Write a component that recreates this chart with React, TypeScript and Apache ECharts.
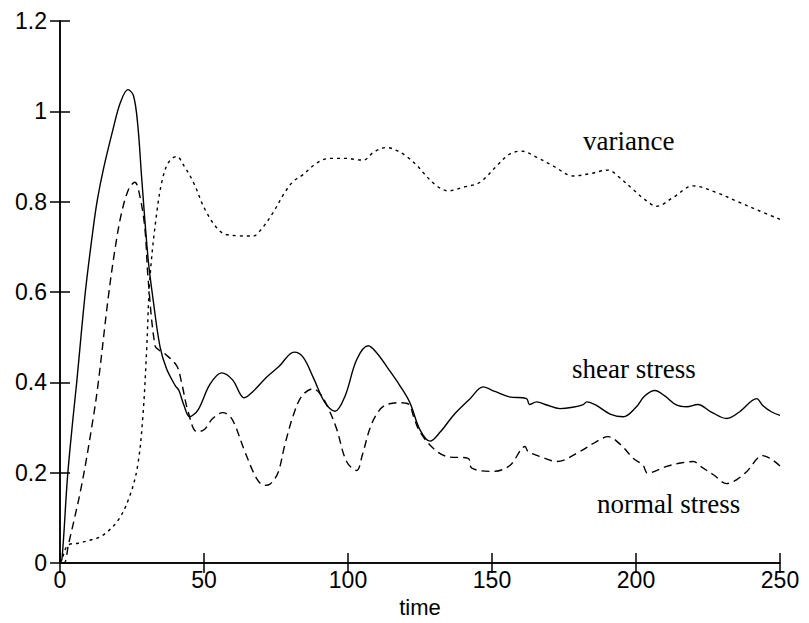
import React, { useEffect, useRef } from "react";
import * as echarts from "echarts";

const xTicks = [0, 50, 100, 150, 200, 250];
const yTicks = [0, 0.2, 0.4, 0.6, 0.8, 1, 1.2];

const shearStress: [number, number][] = [
  [0, 0], [0.7, 0.01], [2.6, 0.19], [4.5, 0.32], [5.8, 0.4], [8.8, 0.6], [11.5, 0.74], [13, 0.805],
  [15, 0.87], [18.4, 0.96], [21, 1.02],
  [23.6, 1.048], [25.5, 1.035], [27, 0.97], [28.4, 0.849], [30.6, 0.673], [32.3, 0.585], [34.7, 0.48],
  [37, 0.43], [40, 0.393], [41.3, 0.382], [43, 0.35], [45, 0.324], [48, 0.34], [52, 0.395], [56.1, 0.421],
  [60, 0.405], [62.5, 0.375], [63.9, 0.366], [67, 0.38], [71.8, 0.412], [76, 0.435], [81.3, 0.467],
  [84.4, 0.456], [88, 0.41], [92, 0.355], [95.5, 0.336], [99, 0.37], [103, 0.45], [107, 0.481],
  [110, 0.465], [114, 0.43], [118, 0.393], [121.5, 0.355], [125, 0.295], [128.5, 0.27], [132, 0.29],
  [137, 0.33], [142.4, 0.364], [146.9, 0.39], [151, 0.38], [156, 0.368], [162, 0.364], [163, 0.351],
  [165.5, 0.357], [169, 0.35], [173.6, 0.342], [178, 0.345], [181.7, 0.351], [182.9, 0.357], [186, 0.35],
  [191, 0.33], [195.6, 0.324], [200, 0.345], [203, 0.37], [206.6, 0.382], [210, 0.37], [214, 0.35],
  [217.6, 0.346], [221.5, 0.351], [226, 0.335], [231.5, 0.32], [236, 0.335], [241.9, 0.364], [244, 0.349],
  [247, 0.335], [250, 0.327],
];

const normalStress: [number, number][] = [
  [0, 0], [1.4, 0], [2.9, 0.04], [7.5, 0.172], [11.5, 0.32], [13.3, 0.4], [16.7, 0.585], [19.1, 0.695],
  [21.4, 0.776],
  [24, 0.83], [26, 0.843], [27.8, 0.81], [29.5, 0.739], [30.6, 0.629], [33, 0.481], [34.7, 0.47],
  [36.5, 0.463], [40.5, 0.437], [42.2, 0.4], [44.5, 0.335], [47.5, 0.291], [50, 0.295], [53, 0.32],
  [56.5, 0.333], [59, 0.325], [60.8, 0.305], [64, 0.25], [68.3, 0.187], [71, 0.172], [73, 0.175],
  [75.7, 0.2], [78, 0.26], [81, 0.327], [84, 0.37], [87.9, 0.386], [90.3, 0.375], [93, 0.345], [96, 0.298],
  [99.5, 0.225], [103, 0.205], [105, 0.24], [107.6, 0.298], [110, 0.33], [112.8, 0.349], [118, 0.355],
  [121, 0.352], [123, 0.32], [125, 0.29], [129.6, 0.254], [134.3, 0.236], [141.7, 0.232], [143, 0.21],
  [150.5, 0.203], [156.2, 0.216], [161.5, 0.258], [162.5, 0.247], [167, 0.235], [172.5, 0.225],
  [180.5, 0.247], [186, 0.268], [190.3, 0.28], [195, 0.26], [199, 0.232], [202.5, 0.216], [204, 0.199],
  [210.6, 0.214], [216, 0.222], [220, 0.225], [222, 0.216], [227, 0.195], [231.5, 0.176], [235, 0.185],
  [238.5, 0.203], [244, 0.238], [247, 0.23], [250, 0.215],
];

const variance: [number, number][] = [
  [0, 0], [0.7, 0.01], [2.8, 0.04], [6.3, 0.044], [10, 0.05], [14.5, 0.06], [20.2, 0.095], [24.3, 0.15],
  [27, 0.217], [28.8, 0.327], [30.1, 0.474], [31.2, 0.629], [33.6, 0.776], [35.8, 0.856], [38, 0.89],
  [40.5, 0.9], [43, 0.88], [46.3, 0.843], [50.9, 0.776], [56.1, 0.732], [61, 0.725], [67, 0.724],
  [70, 0.74], [74, 0.776], [78, 0.82], [81, 0.845], [84.4, 0.86], [88, 0.88], [91.4, 0.893], [95, 0.896],
  [99.5, 0.896], [103, 0.893], [105.3, 0.892], [109, 0.91], [113.4, 0.92], [117, 0.913], [120.4, 0.9],
  [124, 0.88], [126, 0.865], [130.8, 0.835], [134.8, 0.824], [140, 0.832], [145.8, 0.843], [151.6, 0.879],
  [156, 0.905], [160.3, 0.912], [165, 0.9], [171.3, 0.879], [178.2, 0.857], [184, 0.862], [190.3, 0.87],
  [194, 0.855], [199, 0.827], [203, 0.805], [207.2, 0.79], [213, 0.81], [219.9, 0.835], [228, 0.82],
  [235, 0.801], [242, 0.782], [250, 0.761],
];

const seriesLabels = ["variance", "shear stress", "normal stress"];

export default function App() {
  const ref = useRef<HTMLDivElement>(null);
  useEffect(() => {
    if (!ref.current) return;
    const chart = echarts.init(ref.current, null, { renderer: "svg" });
    const tickFont = { fontFamily: "Liberation Sans", fontSize: 23, color: "#000" };
    const axisCommon = {
      axisLine: { show: true, lineStyle: { color: "#000", width: 1.5 } },
      axisTick: { show: true, inside: true, length: 10, lineStyle: { color: "#000", width: 1.5 } },
      splitLine: { show: false },
    };
    chart.setOption({
      animation: false,
      backgroundColor: "#fff",
      grid: { left: 60, top: 21, right: 29, bottom: 58 },
      xAxis: [
        {
          type: "value", min: xTicks[0], max: xTicks[xTicks.length - 1], interval: 50, position: "bottom",
          name: "time", nameLocation: "middle", nameGap: 30,
          nameTextStyle: { ...tickFont, fontSize: 22 },
          axisLabel: { ...tickFont, margin: 5 },
          ...axisCommon,
        },
        {
          type: "value", min: xTicks[0], max: xTicks[xTicks.length - 1], interval: 50, position: "top",
          axisLabel: { show: false }, ...axisCommon,
        },
      ],
      yAxis: [
        {
          type: "value", min: yTicks[0], max: yTicks[yTicks.length - 1], interval: 0.2, position: "left",
          axisLabel: { ...tickFont, margin: 13, formatter: (v: number) => String(Math.round(v * 10) / 10) },
          ...axisCommon,
        },
        {
          type: "value", min: yTicks[0], max: yTicks[yTicks.length - 1], interval: 0.2, position: "right",
          axisLabel: { show: false }, ...axisCommon,
        },
      ],
      series: [
        {
          name: seriesLabels[0], type: "line", data: variance, smooth: 0.35, showSymbol: false,
          lineStyle: { color: "#000", width: 1.4, type: [3, 4] },
        },
        {
          name: seriesLabels[1], type: "line", data: shearStress, smooth: 0.35, showSymbol: false,
          lineStyle: { color: "#000", width: 1.4, type: "solid" },
        },
        {
          name: seriesLabels[2], type: "line", data: normalStress, smooth: 0.35, showSymbol: false,
          lineStyle: { color: "#000", width: 1.4, type: [8, 5] },
        },
      ],
      graphic: [
        { type: "text", left: 583, top: 127, style: { text: seriesLabels[0], font: "27px 'Liberation Serif'", fill: "#000" } },
        { type: "text", left: 572, top: 355, style: { text: seriesLabels[1], font: "27px 'Liberation Serif'", fill: "#000" } },
        { type: "text", left: 597, top: 490, style: { text: seriesLabels[2], font: "27px 'Liberation Serif'", fill: "#000" } },
      ],
    });
    return () => chart.dispose();
  }, []);
  return <div ref={ref} style={{ position: "fixed", left: 0, top: 0, width: 809, height: 623, background: "#fff" }} />;
}
